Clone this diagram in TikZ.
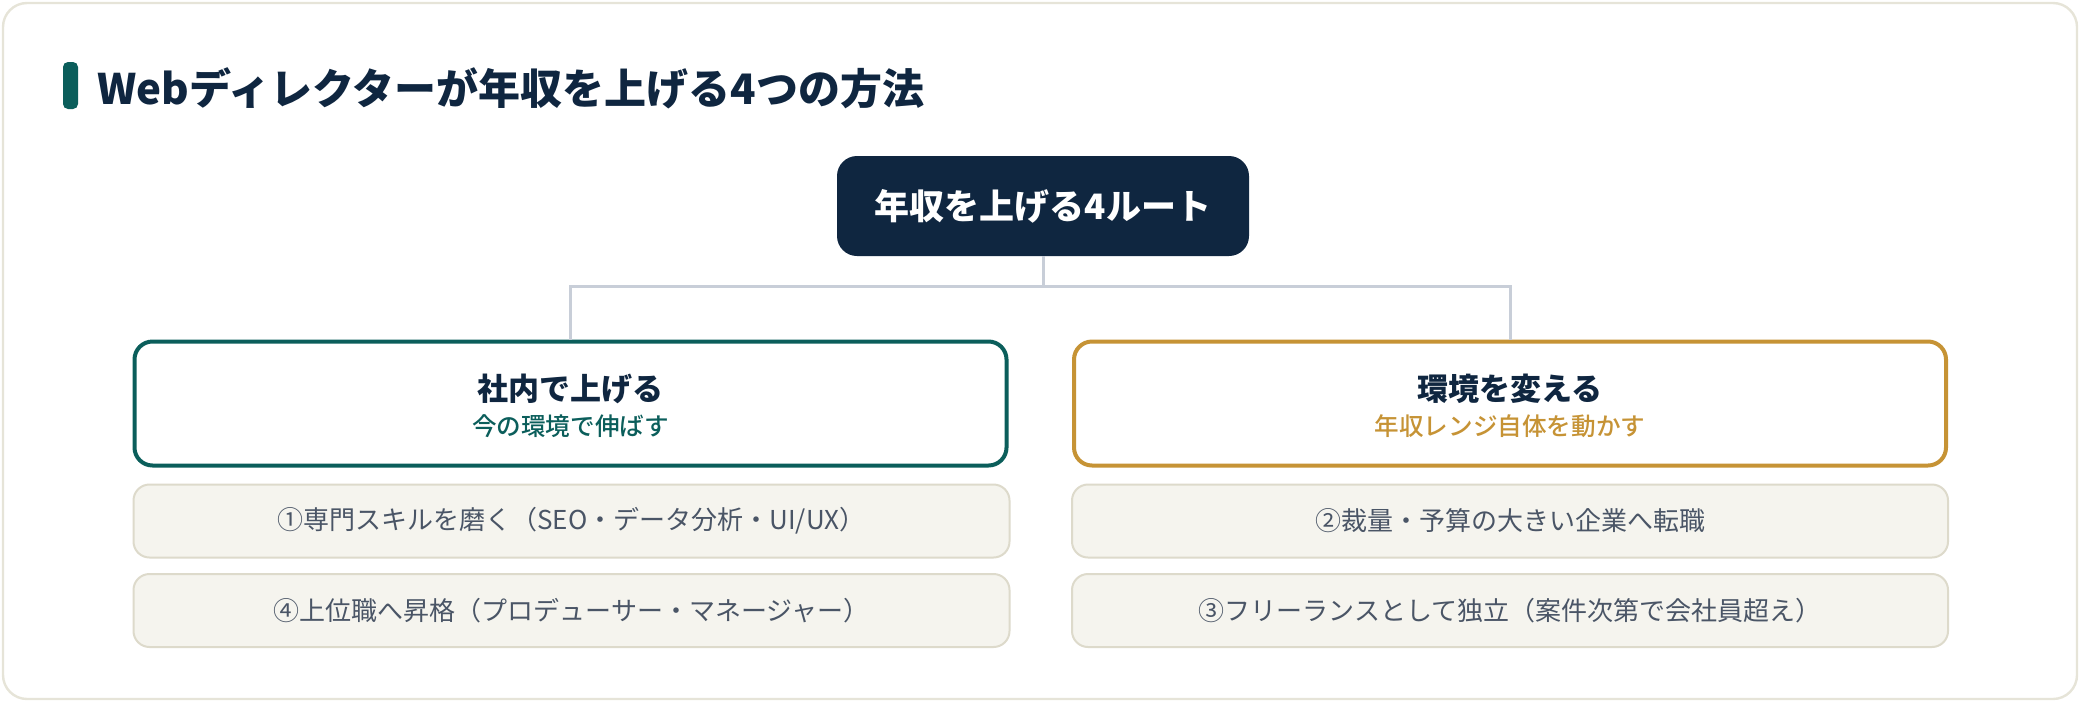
\documentclass[tikz,border=0pt]{standalone}
\usepackage{fontspec}
\setmainfont{Noto Sans CJK JP}
\newfontfamily\cjkmed{Noto Sans CJK JP Medium}
\definecolor{navy}{HTML}{0F2640}
\definecolor{teal}{HTML}{0B5E5B}
\definecolor{gold}{HTML}{C69335}
\definecolor{conn}{HTML}{C8CED8}
\definecolor{itemfill}{HTML}{F5F4EE}
\definecolor{itemline}{HTML}{DDDACB}
\definecolor{cardline}{HTML}{E6E4D8}
\definecolor{itemtext}{HTML}{4A5566}
\tikzset{
  rootbox/.style={fill=navy, rounded corners=10pt, minimum width=206pt, minimum height=50pt, text=white, font=\fontsize{17.5}{20}\selectfont\bfseries, inner sep=0pt},
  groupbox/.style={draw=#1, fill=white, line width=2pt, rounded corners=9pt, minimum width=436pt, minimum height=62pt, inner sep=0pt},
  grouptitle/.style={text=navy, font=\fontsize{15.5}{18}\selectfont\bfseries, inner sep=0pt},
  groupsub/.style={text=#1, font=\cjkmed\fontsize{12.3}{15}\selectfont, inner sep=0pt},
  itembox/.style={draw=itemline, fill=itemfill, line width=1pt, rounded corners=8pt, minimum width=438pt, minimum height=36.5pt, text=itemtext, font=\fontsize{13}{15}\selectfont, inner sep=0pt},
  connline/.style={draw=conn, line width=1.5pt},
}
\begin{document}
\begin{tikzpicture}[x=0.5pt, y=-0.5pt]
\useasboundingbox (0,0) rectangle (2080,702);
\draw[cardline, line width=1.2pt, fill=white, rounded corners=12pt] (3,3) rectangle (2077,699);
% title
\fill[teal, rounded corners=2.5pt] (63,62) rectangle (78,109);
\node[anchor=west, inner sep=0pt, text=navy, font=\fontsize{21}{25}\selectfont\bfseries] (title) at (97,88) {Webディレクターが年収を上げる4つの方法};
% root
\node[rootbox] (root) at (1043,206) {年収を上げる4ルート};
% groups
\node[groupbox=teal] (left) at (570.5,403.5) {};
\node[grouptitle] (lefttitle) at (570.5,389) {社内で上げる};
\node[groupsub=teal] (leftsub) at (570.5,426) {今の環境で伸ばす};
\node[groupbox=gold] (right) at (1510,403.5) {};
\node[grouptitle] (righttitle) at (1510,389) {環境を変える};
\node[groupsub=gold] (rightsub) at (1510,426) {年収レンジ自体を動かす};
% connectors
\coordinate (j) at (1043,286);
\draw[connline] (root.south) -- (j);
\draw[connline] (left.north) |- (j) -| (right.north);
% items
\node[itembox] (i1) at (571.5,521) {①専門スキルを磨く（SEO・データ分析・UI/UX）};
\node[itembox] (i4) at (571.5,610.5) {④上位職へ昇格（プロデューサー・マネージャー）};
\node[itembox] (i2) at (1510,521) {②裁量・予算の大きい企業へ転職};
\node[itembox] (i3) at (1510,610.5) {③フリーランスとして独立（案件次第で会社員超え）};
\end{tikzpicture}
\end{document}
